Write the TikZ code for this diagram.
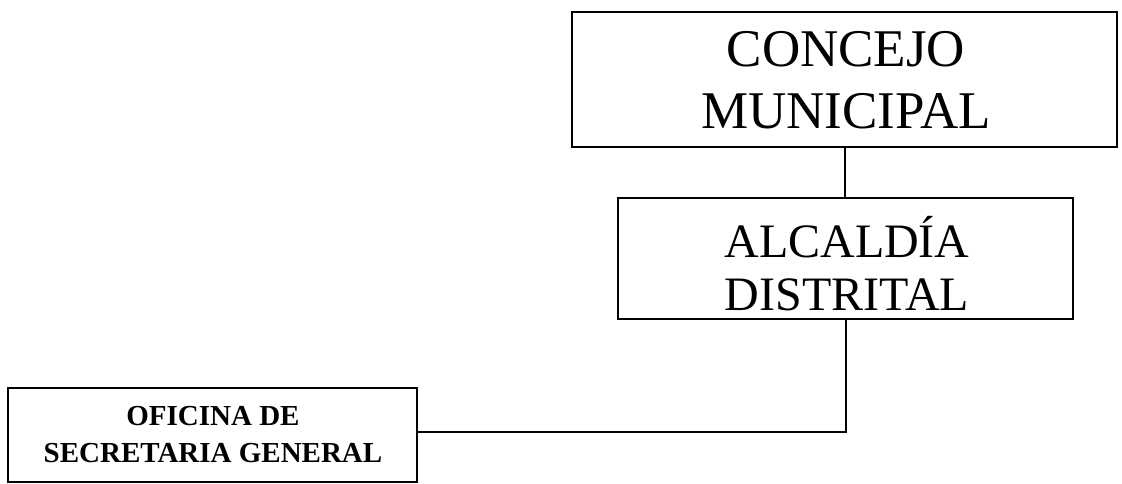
\documentclass[tikz,border=0pt]{standalone}
\usepackage{fontspec}
\setmainfont{Liberation Serif}
\begin{document}
\begin{tikzpicture}[x=1pt,y=-1pt,
  orgbox/.style={draw=black, line width=2pt, inner sep=0pt, fill=white},
  bigtxt/.style={align=center, inner sep=0pt, font=\fontsize{53}{62}\selectfont},
  midtxt/.style={align=center, inner sep=0pt, font=\fontsize{48}{53}\selectfont},
  smalltxt/.style={align=center, inner sep=0pt, font=\bfseries\fontsize{29}{37}\selectfont},
  link/.style={draw=black, line width=2pt}]
\useasboundingbox (0,0) rectangle (1122,484);
\node[orgbox, minimum width=545pt, minimum height=135pt] (con) at (844.5,79.5) {};
\node[orgbox, minimum width=455pt, minimum height=121pt] (alc) at (845.5,258.5) {};
\node[orgbox, minimum width=409pt, minimum height=94pt] (ofi) at (212.5,434.5) {};
\node[bigtxt] (contxt) at (846,80.5) {CONCEJO\\MUNICIPAL};
\node[midtxt] (alctxt) at (847,264) {ALCALDÍA\\DISTRITAL};
\node[smalltxt] (ofitxt) at (213,435) {OFICINA DE\\SECRETARIA GENERAL};
\draw[link] (con.south) -- (con.south |- alc.north);
\draw[link] (alc.south) |- ([yshift=3pt]ofi.east);
\end{tikzpicture}
\end{document}
